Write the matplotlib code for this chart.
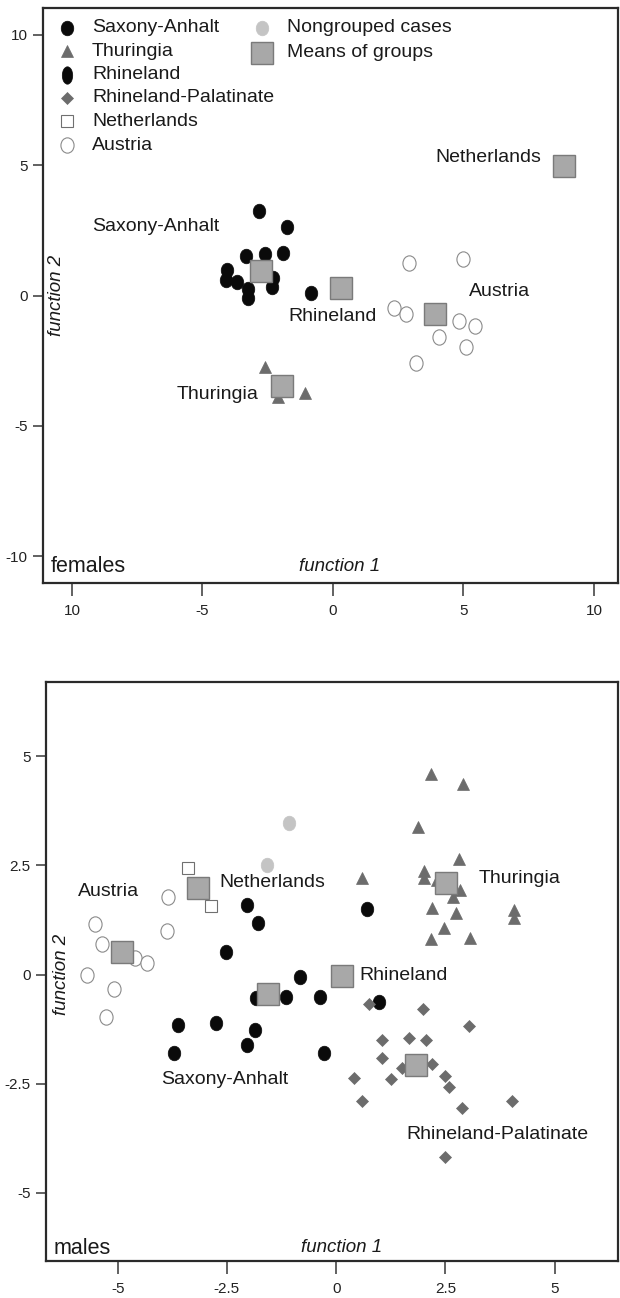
import matplotlib.pyplot as plt
import numpy as np
from matplotlib.path import Path

plt.rcParams['font.family'] = ['Liberation Sans', 'DejaVu Sans']
plt.rcParams['axes.unicode_minus'] = False

# ---- females (top panel), discriminant scores ----
saxony_f_x = [-2.84, -1.75, -3.33, -2.62, -1.93, -4.05, -4.10, -3.67, -3.25, -3.25, -2.29, -2.35, -0.84]
saxony_f_y = [3.25, 2.64, 1.52, 1.59, 1.64, 0.98, 0.59, 0.53, 0.24, -0.11, 0.66, 0.31, 0.11]
thuringia_f_x = [-2.59, -2.12, -1.06]
thuringia_f_y = [-2.73, -3.88, -3.75]
austria_f_x = [2.92, 4.97, 2.33, 2.79, 4.82, 5.43, 4.07, 5.10, 3.19]
austria_f_y = [1.24, 1.39, -0.47, -0.72, -0.98, -1.16, -1.58, -1.96, -2.58]
means_f_names = ['Saxony-Anhalt', 'Rhineland', 'Austria', 'Thuringia', 'Netherlands']
means_f_x = [-2.76, 0.31, 3.92, -1.94, 8.85]
means_f_y = [0.95, 0.30, -0.72, -3.46, 4.97]

# ---- males (bottom panel) ----
saxony_m_x = [-2.04, -1.78, -2.52, -0.83, -1.83, -1.14, -0.37, -3.61, -2.75, -1.86, -2.04, -3.72, -0.27, 0.71, 0.98]
saxony_m_y = [1.60, 1.19, 0.52, -0.06, -0.53, -0.51, -0.51, -1.15, -1.12, -1.28, -1.61, -1.80, -1.80, 1.50, -0.62]
thuringia_m_x = [2.17, 2.90, 1.87, 2.81, 2.02, 2.02, 2.30, 2.83, 2.68, 0.59, 2.20, 2.74, 4.08, 4.08, 2.47, 2.18, 3.06]
thuringia_m_y = [4.60, 4.37, 3.37, 2.64, 2.38, 2.20, 2.16, 1.93, 1.77, 2.20, 1.53, 1.42, 1.48, 1.29, 1.07, 0.81, 0.83]
rlp_m_x = [0.76, 1.98, 3.04, 1.05, 1.66, 2.06, 1.05, 1.50, 2.20, 0.40, 1.25, 2.49, 2.59, 0.59, 2.87, 4.03, 2.50]
rlp_m_y = [-0.68, -0.80, -1.18, -1.50, -1.45, -1.51, -1.90, -2.15, -2.05, -2.36, -2.39, -2.32, -2.58, -2.89, -3.06, -2.89, -4.18]
netherlands_m_x = [-3.39, -2.87]
netherlands_m_y = [2.43, 1.57]
austria_m_x = [-3.84, -5.53, -3.87, -5.36, -4.60, -4.33, -5.71, -5.08, -5.26]
austria_m_y = [1.78, 1.16, 1.00, 0.71, 0.37, 0.27, -0.02, -0.32, -0.98]
nongrouped_m_x = [-1.08, -1.58]
nongrouped_m_y = [3.46, 2.50]
means_m_names = ['Saxony-Anhalt', 'Rhineland', 'Austria', 'Thuringia', 'Netherlands', 'Rhineland-Palatinate']
means_m_x = [-1.57, 0.13, -4.89, 2.51, -3.17, 1.82]
means_m_y = [-0.45, -0.03, 0.52, 2.10, 1.99, -2.06]

top_xticks = [-10, -5, 0, 5, 10]
top_xticklabels = ['10', '-5', '0', '5', '10']
top_yticks = [-10, -5, 0, 5, 10]
bot_ticks = [-5, -2.5, 0, 2.5, 5]
bot_ticklabels = ['-5', '-2.5', '0', '2.5', '5']

legend_left = ['Saxony-Anhalt', 'Thuringia', 'Rhineland', 'Rhineland-Palatinate', 'Netherlands', 'Austria']
legend_right = ['Nongrouped cases', 'Means of groups']

# markers
circ = Path.unit_circle()
ellipse = Path(circ.vertices * [0.86, 1.0], circ.codes)
tall_ellipse = Path(circ.vertices * [0.6, 1.0], circ.codes)

BLACK = '#0a0a0a'
DGRAY = '#6c6c6c'
MEANC = '#a8a8a8'
MEANE = '#7a7a7a'
LGRAY = '#c4c4c4'
TXT = '#1a1a1a'

sty = {
    'Saxony-Anhalt': dict(marker=ellipse, ms=10.5, mfc=BLACK, mec=BLACK, mew=0.5),
    'Thuringia': dict(marker='^', ms=9, mfc=DGRAY, mec=DGRAY, mew=0.5),
    'Rhineland': dict(marker=tall_ellipse, ms=12.5, mfc=BLACK, mec=BLACK, mew=0.5),
    'Rhineland-Palatinate': dict(marker='D', ms=6.6, mfc=DGRAY, mec=DGRAY, mew=0.5),
    'Netherlands': dict(marker='s', ms=8, mfc='white', mec='#707070', mew=0.8),
    'Austria': dict(marker=ellipse, ms=11, mfc='white', mec='#8a8a8a', mew=0.8),
    'Nongrouped cases': dict(marker=ellipse, ms=10.5, mfc=LGRAY, mec=LGRAY, mew=0.5),
    'Means of groups': dict(marker='s', ms=15.5, mfc=MEANC, mec=MEANE, mew=1.0),
}

fig = plt.figure(figsize=(6.2, 12.98), dpi=100)
W, H = 620, 1298

def make_ax(l, t, r, b):
    return fig.add_axes([l / W, 1 - b / H, (r - l) / W, (b - t) / H])

ax1 = make_ax(43, 8, 618, 583)
ax2 = make_ax(46, 682, 618, 1261)

def pts(ax, x, y, key, z=3):
    ax.plot(x, y, ls='none', zorder=z, **sty[key])

def style_axes(ax):
    for s in ax.spines.values():
        s.set_linewidth(1.6)
        s.set_color('#2a2a2a')
    ax.tick_params(axis='both', direction='out', width=1.3, color='#555555',
                   labelsize=11, labelcolor='#222222', top=False, right=False)
    ax.tick_params(axis='x', length=9, pad=6)
    ax.tick_params(axis='y', length=7, pad=4)

# ---- top panel ----
pts(ax1, saxony_f_x, saxony_f_y, 'Saxony-Anhalt')
pts(ax1, thuringia_f_x, thuringia_f_y, 'Thuringia')
pts(ax1, austria_f_x, austria_f_y, 'Austria')
pts(ax1, means_f_x, means_f_y, 'Means of groups', z=4)
ax1.set_xlim(-11.11, 10.92)
ax1.set_ylim(-11.03, 11.03)
ax1.set_xticks(top_xticks)
ax1.set_xticklabels(top_xticklabels)
ax1.set_yticks(top_yticks)
style_axes(ax1)

lab_f = {'Saxony-Anhalt': (-4.36, 2.64, 'right'), 'Rhineland': (0.0, -0.81, 'center'),
         'Austria': (5.21, 0.17, 'left'), 'Thuringia': (-2.85, -3.8, 'right'),
         'Netherlands': (7.97, 5.31, 'right')}
for name, (x, y, ha) in lab_f.items():
    ax1.text(x, y, name, fontsize=14, ha=ha, va='center', color=TXT)

# legend (manual, two columns)
def frac(ax_l, ax_t, ax_r, ax_b, px, py):
    return (px - ax_l) / (ax_r - ax_l), (ax_b - py) / (ax_b - ax_t)

for i, name in enumerate(legend_left):
    py = 27.5 + 23.5 * i
    mx, my = frac(43, 8, 618, 583, 67, py)
    tx, ty = frac(43, 8, 618, 583, 92, py)
    ax1.plot([mx], [my], transform=ax1.transAxes, ls='none', clip_on=False, **sty[name])
    ax1.text(tx, ty, name, transform=ax1.transAxes, fontsize=14, va='center', color=TXT)
for i, name in enumerate(legend_right):
    py = 27.5 + 25 * i
    mx, my = frac(43, 8, 618, 583, 262, py)
    tx, ty = frac(43, 8, 618, 583, 287, py)
    ax1.plot([mx], [my], transform=ax1.transAxes, ls='none', clip_on=False, **sty[name])
    ax1.text(tx, ty, name, transform=ax1.transAxes, fontsize=14, va='center', color=TXT)

ax1.text(0.013, 0.028, 'females', transform=ax1.transAxes, fontsize=15.5, va='center', color=TXT)
ax1.text(0.516, 0.028, 'function 1', transform=ax1.transAxes, fontsize=13.5, style='italic',
         ha='center', va='center', color=TXT)
ax1.text(0.024, 0.5, 'function 2', transform=ax1.transAxes, fontsize=13.5, style='italic',
         rotation=90, ha='center', va='center', color=TXT)

# ---- bottom panel ----
pts(ax2, saxony_m_x, saxony_m_y, 'Saxony-Anhalt')
pts(ax2, thuringia_m_x, thuringia_m_y, 'Thuringia')
pts(ax2, rlp_m_x, rlp_m_y, 'Rhineland-Palatinate')
pts(ax2, netherlands_m_x, netherlands_m_y, 'Netherlands')
pts(ax2, austria_m_x, austria_m_y, 'Austria')
pts(ax2, nongrouped_m_x, nongrouped_m_y, 'Nongrouped cases')
pts(ax2, means_m_x, means_m_y, 'Means of groups', z=4)
ax2.set_xlim(-6.64, 6.45)
ax2.set_ylim(-6.56, 6.70)
ax2.set_xticks(bot_ticks)
ax2.set_xticklabels(bot_ticklabels)
ax2.set_yticks(bot_ticks)
ax2.set_yticklabels(bot_ticklabels)
style_axes(ax2)

lab_m = {'Saxony-Anhalt': (-2.56, -2.41, 'center'), 'Rhineland': (0.53, -0.03, 'left'),
         'Austria': (-5.21, 1.90, 'center'), 'Thuringia': (3.27, 2.20, 'left'),
         'Netherlands': (-1.46, 2.10, 'center'), 'Rhineland-Palatinate': (3.69, -3.67, 'center')}
for name, (x, y, ha) in lab_m.items():
    ax2.text(x, y, name, fontsize=14, ha=ha, va='center', color=TXT)

ax2.text(0.014, 0.022, 'males', transform=ax2.transAxes, fontsize=15.5, va='center', color=TXT)
ax2.text(0.517, 0.024, 'function 1', transform=ax2.transAxes, fontsize=13.5, style='italic',
         ha='center', va='center', color=TXT)
ax2.text(0.027, 0.495, 'function 2', transform=ax2.transAxes, fontsize=13.5, style='italic',
         rotation=90, ha='center', va='center', color=TXT)

fig.savefig('out.png', dpi=100)
